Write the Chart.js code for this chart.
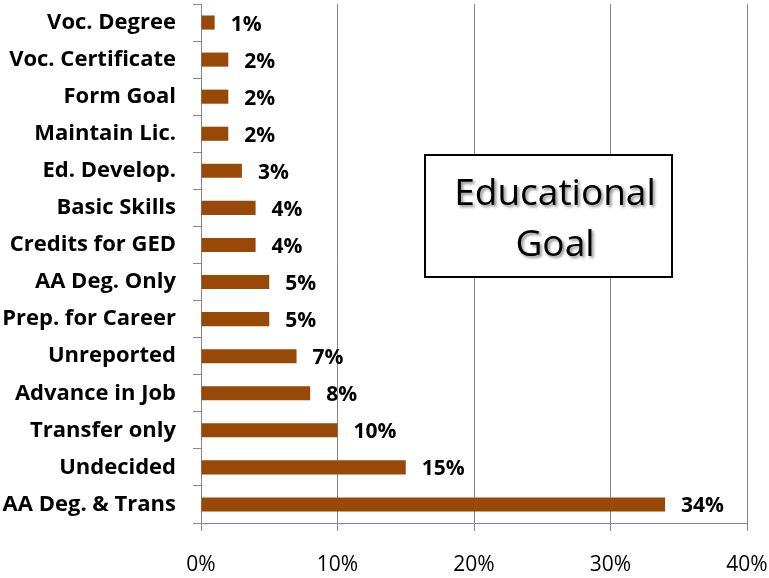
<!DOCTYPE html>
<html>
<head>
<meta charset="utf-8">
<script src="https://cdn.jsdelivr.net/npm/chart.js@4.4.1/dist/chart.umd.min.js"></script>
<style>
html,body{margin:0;padding:0;background:#fff;}
#wrap{position:relative;width:769px;height:578px;}
</style>
</head>
<body>
<div id="wrap"><canvas id="c" width="769" height="578"></canvas></div>
<script>
const categories = ["Voc. Degree","Voc. Certificate","Form Goal","Maintain Lic.","Ed. Develop.","Basic Skills","Credits for GED","AA Deg. Only","Prep. for Career","Unreported","Advance in Job","Transfer only","Undecided","AA Deg. & Trans"];
const values = [1,2,2,2,3,4,4,5,5,7,8,10,15,34];
const xTicks = [0,10,20,30,40];
const titleLines = ["Educational","Goal"];

const FONT = "'Open Sans', sans-serif";

const valueLabels = {
  id: 'valueLabels',
  afterDatasetsDraw(chart) {
    const ctx = chart.ctx;
    const meta = chart.getDatasetMeta(0);
    ctx.save();
    ctx.font = "bold 21px " + FONT;
    ctx.fillStyle = "#000";
    ctx.textAlign = "left";
    ctx.textBaseline = "middle";
    meta.data.forEach((bar, i) => {
      ctx.fillText(values[i] + "%", bar.x + 16, bar.y + 2);
    });
    ctx.restore();
  }
};

const titleBox = {
  id: 'titleBox',
  afterDraw(chart) {
    const ctx = chart.ctx;
    const x = 425, y = 155, w = 247, h = 122;
    ctx.save();
    ctx.fillStyle = "#fff";
    ctx.fillRect(x, y, w, h);
    ctx.strokeStyle = "#000";
    ctx.lineWidth = 2;
    ctx.strokeRect(x, y, w, h);
    ctx.font = "37px " + FONT;
    ctx.textAlign = "center";
    ctx.textBaseline = "alphabetic";
    ctx.shadowColor = "rgba(0,0,0,0.45)";
    ctx.shadowOffsetX = 2;
    ctx.shadowOffsetY = 2;
    ctx.shadowBlur = 3;
    ctx.fillStyle = "#000";
    ctx.fillText(titleLines[0], 555, 205);
    ctx.fillText(titleLines[1], 555, 256);
    ctx.restore();
  }
};

function noPad(scale) {
  scale.paddingTop = 0; scale.paddingBottom = 0;
  scale.paddingLeft = 0; scale.paddingRight = 0;
}

new Chart(document.getElementById('c'), {
  type: 'bar',
  data: {
    labels: categories,
    datasets: [{
      data: values,
      backgroundColor: '#984807',
      borderWidth: 0,
      barPercentage: 0.38,
      categoryPercentage: 1
    }]
  },
  options: {
    indexAxis: 'y',
    responsive: false,
    animation: false,
    layout: { padding: { left: 0, right: 22, top: 4, bottom: 0 } },
    plugins: { legend: { display: false }, tooltip: { enabled: false } },
    scales: {
      x: {
        min: 0, max: 40,
        afterBuildTicks(scale) { scale.ticks = xTicks.map(v => ({ value: v })); },
        afterFit(scale) { scale.height = 55; noPad(scale); },
        grid: { color: '#868686', lineWidth: 1, tickLength: 8, drawTicks: true },
        border: { color: '#868686', width: 1 },
        ticks: {
          color: '#000',
          font: { family: FONT, size: 21 },
          padding: 21,
          maxRotation: 0,
          callback: (v) => v + '%'
        }
      },
      y: {
        afterFit(scale) { scale.width = 201; noPad(scale); },
        grid: { drawOnChartArea: false, drawTicks: true, tickLength: 8, color: '#868686' },
        border: { color: '#868686', width: 1 },
        ticks: {
          color: '#000',
          font: { family: FONT, size: 22, weight: 'bold' },
          padding: 17,
          autoSkip: false
        }
      }
    }
  },
  plugins: [valueLabels, titleBox]
});
</script>
</body>
</html>
